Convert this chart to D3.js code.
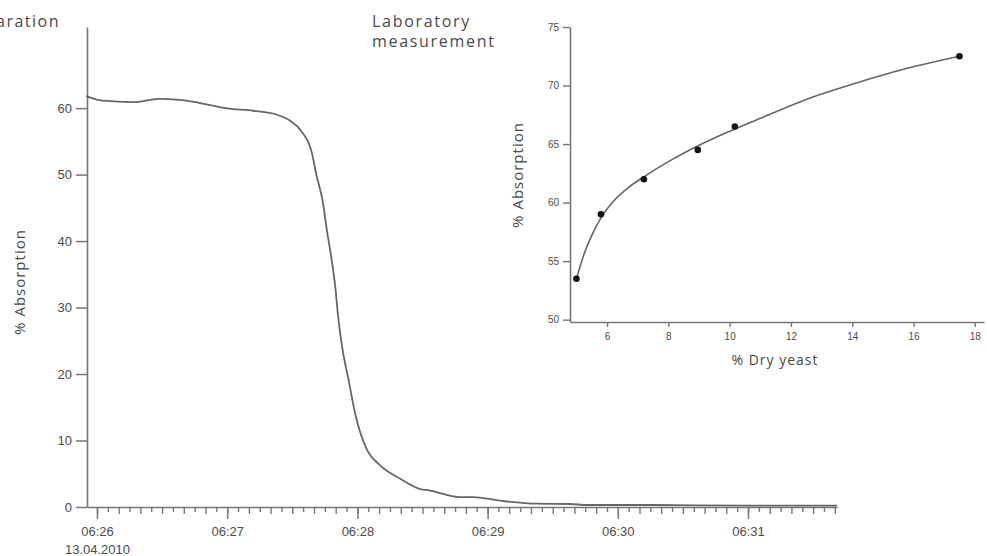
<!DOCTYPE html>
<html><head><meta charset="utf-8">
<script src="https://cdn.jsdelivr.net/npm/d3@7"></script>
<style>
html,body{margin:0;padding:0;background:#fff;}
svg{display:block;}
</style></head>
<body>
<svg id="c" width="987" height="556"></svg>
<script>
// ---- Main chart data (time of day, % absorption) ----
const mainTimes = ["06:25:55","06:26:01","06:26:06","06:26:18","06:26:28","06:26:38","06:26:47","06:27:00","06:27:12","06:27:23","06:27:29","06:27:34","06:27:39","06:27:41","06:27:44","06:27:46","06:27:48","06:27:50","06:27:51","06:27:53","06:27:56","06:27:59","06:28:04","06:28:10","06:28:20","06:28:29","06:28:33","06:28:47","06:28:53","06:29:07","06:29:23","06:29:38","06:29:46","06:30:15","06:31:01","06:31:41"];
const mainValues = [61.8,61.2,61.05,60.9,61.4,61.25,60.8,59.95,59.6,59.0,58.1,56.6,53.3,50.1,46.0,41.5,37.5,32.5,29.0,24.0,19.0,14.0,8.9,6.4,4.2,2.7,2.5,1.5,1.5,0.9,0.5,0.45,0.3,0.3,0.2,0.2];
const mainYTicks = [0,10,20,30,40,50,60];
const mainDate = "13.04.2010";

// ---- Inset data (% dry yeast vs % absorption) ----
const labX = [5.0,5.8,7.2,8.96,10.17,17.5];
const labY = [53.5,59.0,62.0,64.5,66.5,72.5];
const fitX = [5.0,5.25,5.5,5.8,6.2,6.7,7.2,8.0,9.0,10.0,11.0,12.7,14.0,15.4,17.5];
const fitY = [53.5,55.6,57.2,58.7,60.1,61.3,62.2,63.5,64.9,66.1,67.2,69.0,70.1,71.2,72.5];
const insetXTicks = [6,8,10,12,14,16,18];
const insetYTicks = [50,55,60,65,70,75];

const svg = d3.select("#c");
const parse = d3.timeParse("%Y-%m-%d %H:%M:%S");
const T = s => parse("2010-04-13 " + s);

const axisCol = "#777", lineCol = "#666", tickTxt = "#4d4d4d", titleCol = "#4a4a4a";
const tickFont = "'Liberation Sans', Arial, sans-serif";
const titleFont = "'Open Sans', 'Noto Sans', sans-serif";

// ---- Main scales ----
const x = d3.scaleTime().domain([new Date(T("06:26:00").getTime() - 4600), T("06:31:41")]).range([87, 837]);
const y = d3.scaleLinear().domain([0, 72.2]).range([507, 27]);

// y axis
const gy = svg.append("g").attr("transform","translate(87,0)")
  .call(d3.axisLeft(y).tickValues(mainYTicks).tickSize(11).tickPadding(4).tickSizeOuter(0));
gy.select(".domain").attr("stroke", axisCol).attr("stroke-width", 1.6);
gy.selectAll(".tick line").attr("stroke", axisCol).attr("stroke-width", 1.5);
gy.selectAll(".tick text").attr("fill", tickTxt).style("font", "13px " + tickFont);

// x axis minor ticks
const minorTicks = d3.timeSecond.every(5).range(T("06:26:00"), T("06:31:41"));
const gxm = svg.append("g").attr("transform","translate(0,507)")
  .call(d3.axisBottom(x).tickValues(minorTicks).tickSize(5).tickFormat("").tickSizeOuter(0));
gxm.select(".domain").attr("stroke", axisCol).attr("stroke-width", 1.6);
gxm.selectAll(".tick line").attr("stroke", axisCol).attr("stroke-width", 1.4)
  .attr("y2", d => d.getSeconds() % 10 === 0 ? 7 : 5);

// x axis major ticks
const gx = svg.append("g").attr("transform","translate(0,507)")
  .call(d3.axisBottom(x).ticks(d3.timeMinute.every(1)).tickSize(12).tickPadding(8)
        .tickFormat(d3.timeFormat("%H:%M")).tickSizeOuter(0));
gx.select(".domain").remove();
gx.selectAll(".tick line").attr("stroke", axisCol).attr("stroke-width", 1.5);
gx.selectAll(".tick text").attr("fill", tickTxt).style("font", "13px " + tickFont);
gx.selectAll(".tick").filter((d,i) => i === 0).append("text")
  .attr("y", 47).attr("fill", tickTxt).attr("text-anchor","middle")
  .style("font", "13px " + tickFont).text(mainDate);

// main line
const mainData = mainTimes.map((t,i) => ({t: T(t), v: mainValues[i]}));
svg.append("path").datum(mainData)
  .attr("fill","none").attr("stroke", lineCol).attr("stroke-width", 1.8)
  .attr("d", d3.line().x(d => x(d.t)).y(d => y(d.v)).curve(d3.curveMonotoneX));

// main titles
svg.append("text").attr("x", 60).attr("y", 27).attr("text-anchor","end")
  .attr("fill", titleCol).style("font", "16px " + titleFont).style("letter-spacing","1.5px")
  .text("Separation");
svg.append("text").attr("transform","translate(25,282) rotate(-90)").attr("text-anchor","middle")
  .attr("fill", titleCol).style("font", "15px " + titleFont).style("letter-spacing","1px")
  .text("% Absorption");

// ---- Inset ----
const ix = d3.scaleLinear().domain([4.79, 18.3]).range([570, 984]);
const iy = d3.scaleLinear().domain([49.8, 75]).range([322, 27]);

const giy = svg.append("g").attr("transform","translate(570,0)")
  .call(d3.axisLeft(iy).tickValues(insetYTicks).tickSize(7).tickPadding(4).tickSizeOuter(0));
giy.select(".domain").attr("stroke", axisCol).attr("stroke-width", 1.6);
giy.selectAll(".tick line").attr("stroke", axisCol).attr("stroke-width", 1.4);
giy.selectAll(".tick text").attr("fill", tickTxt).style("font", "10px " + tickFont);

const gix = svg.append("g").attr("transform","translate(0,322)")
  .call(d3.axisBottom(ix).tickValues(insetXTicks).tickSize(5).tickPadding(6).tickSizeOuter(0));
gix.select(".domain").attr("stroke", axisCol).attr("stroke-width", 1.6);
gix.selectAll(".tick line").attr("stroke", axisCol).attr("stroke-width", 1.4);
gix.selectAll(".tick text").attr("fill", tickTxt).style("font", "10px " + tickFont);

const fitData = fitX.map((v,i) => [v, fitY[i]]);
svg.append("path").datum(fitData)
  .attr("fill","none").attr("stroke", lineCol).attr("stroke-width", 1.6)
  .attr("d", d3.line().x(d => ix(d[0])).y(d => iy(d[1])).curve(d3.curveMonotoneX));

svg.append("g").selectAll("circle").data(labX.map((v,i) => [v, labY[i]])).join("circle")
  .attr("cx", d => ix(d[0])).attr("cy", d => iy(d[1])).attr("r", 3.3).attr("fill", "#111");

svg.append("text").attr("transform","translate(523,175) rotate(-90)").attr("text-anchor","middle")
  .attr("fill", titleCol).style("font", "15px " + titleFont).style("letter-spacing","1px")
  .text("% Absorption");
svg.append("text").attr("x", 775).attr("y", 365).attr("text-anchor","middle")
  .attr("fill", titleCol).style("font", "14px " + titleFont).style("letter-spacing","1px")
  .text("% Dry yeast");

const lab = svg.append("text").attr("fill", titleCol).style("font", "16px " + titleFont)
  .style("letter-spacing","1.7px");
lab.append("tspan").attr("x", 372).attr("y", 27).text("Laboratory");
lab.append("tspan").attr("x", 372).attr("y", 47).text("measurement");
</script>
</body></html>
